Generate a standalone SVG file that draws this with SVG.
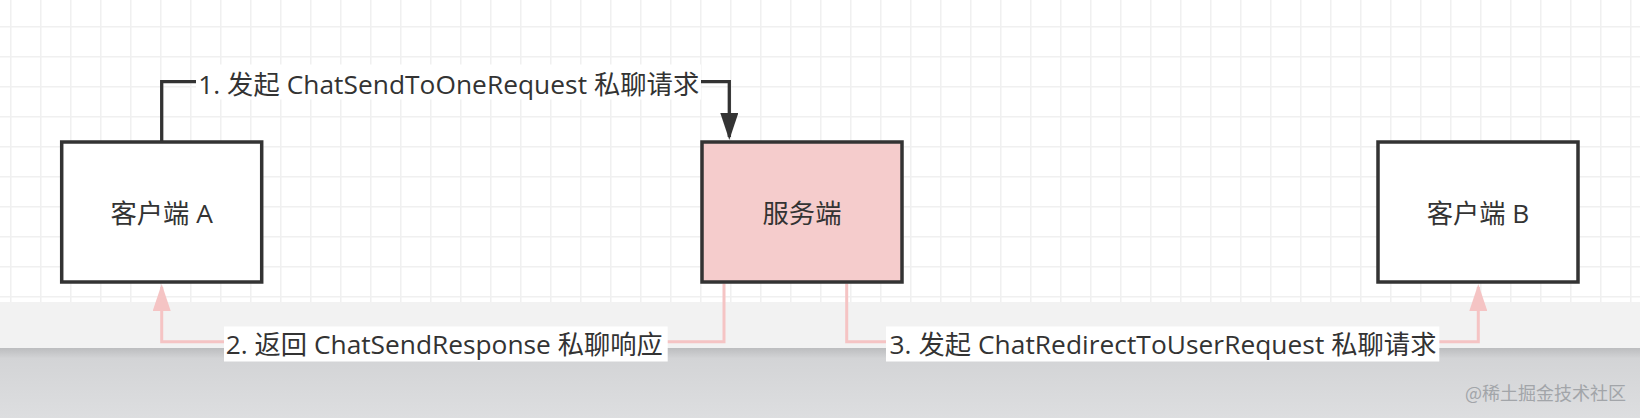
<svg xmlns="http://www.w3.org/2000/svg" width="1640" height="418" viewBox="0 0 1640 418">
<defs>
<pattern id="grid" x="10" y="26" width="30" height="30" patternUnits="userSpaceOnUse">
<path d="M0 0.75 H30 M0.75 0 V30" stroke="#f0f0f0" stroke-width="1.5" fill="none"/>
</pattern>
<linearGradient id="shade" x1="0" y1="0" x2="0" y2="1">
<stop offset="0" stop-color="#bcbdbf"/>
<stop offset="0.15" stop-color="#d3d4d6"/>
<stop offset="1" stop-color="#dddee0"/>
</linearGradient>
<marker id="arrowDark" markerUnits="userSpaceOnUse" viewBox="0 0 27 18" markerWidth="27" markerHeight="18" refX="24" refY="9" orient="auto">
<path d="M0 0 L27 9 L0 18 Z" fill="#333333"/>
</marker>
<marker id="arrowPink" markerUnits="userSpaceOnUse" viewBox="0 0 27 18" markerWidth="27" markerHeight="18" refX="24" refY="9" orient="auto">
<path d="M0 0 L27 9 L0 18 Z" fill="#f5c4c4"/>
</marker>
</defs>
<style>
.node{fill:#ffffff;stroke:#333333;stroke-width:3.5}
.server{fill:#f5cccc}
.t{font-family:"Open Sans","Noto Sans CJK SC",sans-serif;font-size:26.3px;fill:#333333;text-anchor:middle}
.lbg{fill:#ffffff}
.dark{fill:none;stroke:#333333;stroke-width:3.3}
.pink{fill:none;stroke:#f5c4c4;stroke-width:3}
.wm{font-family:"Noto Sans CJK SC",sans-serif;font-size:18px;fill:#a2a5a9}
</style>
<g id="background">
<rect x="0" y="0" width="1640" height="302" fill="#ffffff"/>
<rect x="0" y="0" width="1640" height="302" fill="url(#grid)"/>
<rect x="0" y="302" width="1640" height="46" fill="#f2f2f2"/>
<rect x="0" y="348" width="1640" height="70" fill="url(#shade)"/>
</g>
<g id="connectors">
<g id="edge1">
<path class="dark" d="M161.7 142 V81.7 H729.3 V137" marker-end="url(#arrowDark)"/>
<rect class="lbg" x="196" y="64.5" width="505" height="35"/>
<text class="t" x="448.7" y="94" textLength="501" lengthAdjust="spacing">1. 发起 ChatSendToOneRequest 私聊请求</text>
</g>
<g id="edge2">
<path class="pink" d="M724 283.5 V341.7 H161.7 V287" marker-end="url(#arrowPink)"/>
<rect class="lbg" x="224" y="326.5" width="443.7" height="35"/>
<text class="t" x="444.3" y="353.5" textLength="437" lengthAdjust="spacing">2. 返回 ChatSendResponse 私聊响应</text>
</g>
<g id="edge3">
<path class="pink" d="M846.7 283.5 V341.7 H1478.3 V287" marker-end="url(#arrowPink)"/>
<rect class="lbg" x="886" y="326.5" width="553.3" height="35"/>
<text class="t" x="1163" y="353.5" textLength="547" lengthAdjust="spacing">3. 发起 ChatRedirectToUserRequest 私聊请求</text>
</g>
</g>
<g id="clientA">
<rect class="node" x="61.7" y="142" width="200" height="140"/>
<text class="t" x="161.7" y="222.5">客户端 A</text>
</g>
<g id="server">
<rect class="node server" x="702" y="142" width="200" height="140"/>
<text class="t" x="802" y="222.5">服务端</text>
</g>
<g id="clientB">
<rect class="node" x="1378" y="142" width="200" height="140"/>
<text class="t" x="1478" y="222.5">客户端 B</text>
</g>
<text class="wm" x="1465" y="400">@稀土掘金技术社区</text>
</svg>
